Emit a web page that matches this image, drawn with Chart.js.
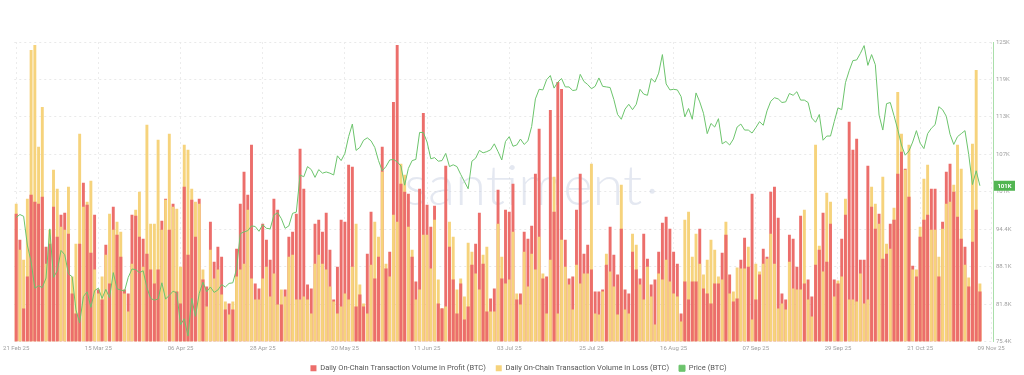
<!DOCTYPE html>
<html>
<head>
<meta charset="utf-8">
<script src="https://cdn.jsdelivr.net/npm/chart.js@4.4.1/dist/chart.umd.min.js"></script>
<style>
  html, body { margin: 0; padding: 0; background: #ffffff; }
  #wrap { width: 1024px; height: 375px; position: relative; }
</style>
</head>
<body>
<div id="wrap"><canvas id="c" width="1024" height="375"></canvas></div>
<script>
// ---------- DATA ----------
const startDate = '2025-02-21';
const endDate = '2025-11-09';
const tickLabels = ['21 Feb 25','15 Mar 25','06 Apr 25','28 Apr 25','20 May 25','11 Jun 25','03 Jul 25','25 Jul 25','16 Aug 25','07 Sep 25','29 Sep 25','21 Oct 25','09 Nov 25'];
const priceTickLabels = ['75.4K','81.8K','88.1K','94.4K','101K','107K','113K','119K','125K'];

// Daily On-Chain Transaction Volume in Profit (BTC, thousands)
const profitVolume = [
128,102,33,65,147,140,138,145,95,98,135,105,127,129,108,48,28,98,159,137,
89,127,52,42,97,58,135,107,85,52,48,127,126,105,103,88,72,58,72,121,
143,112,138,50,38,155,87,142,105,143,62,55,120,80,95,85,32,38,32,93,
138,170,147,197,58,53,118,102,82,143,132,37,52,105,110,128,193,153,57,53,
118,122,110,129,92,42,75,122,120,177,175,35,47,35,88,130,63,85,195,73,
90,240,297,158,150,148,85,60,153,229,137,115,136,38,33,176,95,62,28,58,
22,35,77,98,129,78,30,43,53,152,63,132,130,158,42,48,110,103,116,168,
213,63,65,232,130,260,253,102,63,65,132,168,88,97,72,50,50,52,77,115,
87,67,113,52,48,90,72,63,108,83,57,62,90,119,125,113,90,78,28,60,
42,60,60,113,53,48,38,58,58,89,107,67,40,43,82,104,75,148,42,67,
93,85,150,155,124,48,42,107,103,75,126,58,62,45,77,92,129,80,118,62,
58,103,127,220,192,203,82,82,176,135,113,128,83,88,118,122,168,190,173,145,
76,65,105,122,127,153,153,65,120,170,178,150,125,103,95,55,100,132,50
];
// Daily On-Chain Transaction Volume in Loss (BTC, thousands)
const lossVolume = [
138,92,82,143,292,297,195,235,78,112,172,153,115,112,155,65,98,208,135,140,
161,72,48,65,87,128,112,120,110,48,30,78,132,150,75,217,118,118,202,112,
142,208,135,133,75,197,192,153,140,138,72,35,92,63,72,47,40,27,40,65,
72,78,132,63,42,42,63,75,45,68,37,52,45,85,87,42,42,45,42,28,
78,87,78,72,55,40,28,35,48,42,75,118,57,38,28,77,120,105,170,78,
65,127,120,178,167,115,92,42,52,107,107,73,122,62,33,35,120,105,52,63,
45,99,90,68,52,87,95,30,30,118,85,58,62,110,48,37,90,55,88,72,
105,68,28,82,165,28,102,75,57,32,77,58,68,68,178,28,27,50,88,70,
55,27,157,32,28,108,97,57,42,75,45,17,68,62,82,60,48,45,20,122,
130,85,108,78,67,82,102,92,65,62,120,48,50,74,73,73,95,22,78,70,
78,83,108,78,33,38,32,80,53,52,52,132,42,25,197,96,70,149,140,45,
61,65,143,42,42,40,68,38,42,155,138,118,165,98,93,134,250,208,172,197,
72,72,115,163,177,112,112,85,113,138,140,157,197,173,77,64,198,272,58
];
// Price (BTC), thousands USD
const priceBTC = [
96.1,96.6,96.3,91.5,88.7,84.3,84.7,84.4,
86.0,94.2,86.1,87.2,90.6,89.9,86.7,86.2,80.7,78.5,82.9,83.7,81.1,83.9,84.3,82.6,84.1,82.7,86.9,84.2,84.0,83.8,86.1,87.5,87.4,86.9,87.2,84.4,82.6,82.3,82.5,
85.2,82.5,83.1,83.8,83.5,78.2,79.2,76.3,82.6,79.6,83.4,85.3,83.7,84.5,83.6,84.0,84.9,84.5,85.1,85.2,87.5,93.4,93.7,93.9,94.7,94.6,93.8,94.9,94.3,94.2,
96.5,96.9,95.9,94.3,94.7,96.8,97.0,103.2,102.9,104.6,104.1,102.8,104.1,103.5,103.7,103.5,103.2,106.4,105.6,106.8,109.6,111.7,107.3,107.8,109.0,109.4,108.9,107.8,105.6,103.9,104.6,
105.7,105.8,105.4,104.7,101.5,104.3,105.6,105.8,110.3,110.3,108.7,105.9,106.1,105.5,105.6,106.8,104.6,104.9,104.6,103.3,102.1,100.9,105.5,106.0,107.3,106.9,107.1,107.4,108.4,107.1,
105.7,108.8,109.6,108.0,108.2,109.2,108.3,108.9,111.3,115.9,117.5,117.4,119.1,119.8,117.7,118.7,119.3,117.9,117.9,117.3,117.4,120.0,118.8,118.3,117.6,118.0,119.4,118.0,117.9,117.8,115.8,
113.3,112.5,114.2,115.0,114.1,115.0,117.5,116.7,116.5,119.3,118.7,120.2,123.3,118.4,117.4,117.5,117.4,116.3,112.9,114.3,112.5,116.9,115.4,113.5,110.1,111.8,111.2,112.6,108.4,108.8,108.2,
109.2,111.2,111.7,110.7,110.7,110.2,111.1,112.1,111.5,113.9,115.5,116.1,115.9,115.3,115.4,116.8,116.5,117.1,115.7,115.7,115.3,112.7,112.0,113.3,109.0,109.7,109.7,112.1,114.4,114.1,
118.6,120.6,122.3,122.4,123.5,124.8,121.5,123.3,121.6,113.2,110.7,115.1,115.3,113.1,110.8,108.2,106.5,107.2,108.7,110.6,108.5,107.6,110.1,111.0,111.6,114.6,114.1,113.0,110.0,108.3,109.6,
110.1,110.6,106.6,101.6,103.9,101.4
];

// ---------- CATEGORIES ----------
const MONTHS = ['Jan','Feb','Mar','Apr','May','Jun','Jul','Aug','Sep','Oct','Nov','Dec'];
function fmt(d) {
  const dd = String(d.getUTCDate()).padStart(2, '0');
  return dd + ' ' + MONTHS[d.getUTCMonth()] + ' ' + String(d.getUTCFullYear()).slice(2);
}
const categories = [];
for (let d = new Date(startDate + 'T00:00:00Z'); d <= new Date(endDate + 'T00:00:00Z'); d.setUTCDate(d.getUTCDate() + 1)) {
  categories.push(fmt(d));
}

// ---------- STYLE ----------
const RED = '#ec6e6b';
const YELLOW = '#f6d37c';
const GREEN = '#6cc46c';

Chart.defaults.font.family = 'Roboto, "Liberation Sans", sans-serif';

const watermark = {
  id: 'watermark',
  beforeDatasetsDraw(chart) {
    const { ctx, chartArea } = chart;
    ctx.save();
    ctx.font = '300 56px Lato, "Open Sans", sans-serif';
    ctx.fillStyle = 'rgba(196, 203, 224, 0.45)';
    ctx.textAlign = 'center';
    ctx.textBaseline = 'alphabetic';
    const cx = chartArea.left + chartArea.width * 0.52;
    const by = chartArea.top + chartArea.height * 0.545;
    ctx.fillText('santiment', cx, by);
    const w = ctx.measureText('santiment').width;
    ctx.beginPath();
    ctx.arc(cx + w / 2 + 10, by - 14, 2.5, 0, Math.PI * 2);
    ctx.fill();
    ctx.restore();
  }
};

const priceTag = {
  id: 'priceTag',
  afterDraw(chart) {
    const { ctx } = chart;
    const s = chart.scales.yp;
    const last = priceBTC[priceBTC.length - 1];
    const y = s.getPixelForValue(last);
    ctx.save();
    ctx.fillStyle = '#52b552';
    const x0 = s.left + 1;
    ctx.fillRect(x0, y - 5, 21, 10);
    ctx.fillStyle = '#ffffff';
    ctx.font = 'bold 6px Roboto, sans-serif';
    ctx.textAlign = 'center';
    ctx.textBaseline = 'middle';
    ctx.fillText(Math.round(last) + 'K', x0 + 10.5, y + 0.5);
    ctx.restore();
  }
};

new Chart(document.getElementById('c'), {
  type: 'bar',
  data: {
    labels: categories,
    datasets: [
      {
        label: 'Daily On-Chain Transaction Volume in Profit (BTC)',
        data: profitVolume,
        backgroundColor: RED,
        borderWidth: 0,
        yAxisID: 'yv',
        order: 3,
        grouped: false,
        barPercentage: 0.78,
        categoryPercentage: 1.0
      },
      {
        label: 'Daily On-Chain Transaction Volume in Loss (BTC)',
        data: lossVolume,
        backgroundColor: YELLOW,
        borderWidth: 0,
        yAxisID: 'yv',
        order: 2,
        grouped: false,
        barPercentage: 0.78,
        categoryPercentage: 1.0
      },
      {
        type: 'line',
        label: 'Price (BTC)',
        data: priceBTC,
        borderColor: GREEN,
        backgroundColor: GREEN,
        borderWidth: 1,
        pointRadius: 0,
        tension: 0,
        yAxisID: 'yp',
        order: 0
      },
      {
        label: 'profit-front',
        data: profitVolume,
        backgroundColor: (ctx) => {
          const i = ctx.dataIndex;
          return (profitVolume[i] <= lossVolume[i]) ? RED : 'rgba(0,0,0,0)';
        },
        borderWidth: 0,
        yAxisID: 'yv',
        order: 1,
        grouped: false,
        barPercentage: 0.78,
        categoryPercentage: 1.0
      }
    ]
  },
  options: {
    responsive: false,
    animation: false,
    layout: { padding: { left: 13, top: 42, right: 0, bottom: -7 } },
    plugins: {
      tooltip: { enabled: false },
      legend: {
        position: 'bottom',
        labels: {
          boxWidth: 6,
          boxHeight: 6,
          padding: 10,
          color: '#555555',
          font: { size: 7.5 },
          filter: (item) => item.text !== 'profit-front',
          sort: (a, b) => a.datasetIndex - b.datasetIndex
        }
      }
    },
    scales: {
      x: {
        offset: true,
        grid: { offset: false, drawTicks: false, color: '#ececec', lineWidth: 1 },
        border: { display: false, dash: [2, 3] },
        ticks: {
          autoSkip: false,
          maxRotation: 0,
          padding: 3,
          color: '#a0a0a0',
          font: { size: 6 }
        },
        afterBuildTicks: (scale) => {
          scale.ticks = scale.ticks.filter(t => tickLabels.includes(categories[t.value]));
        },
        afterFit: (scale) => { scale.height = 13; }
      },
      yv: {
        display: false,
        position: 'left',
        min: 0,
        max: 300
      },
      yp: {
        position: 'right',
        min: 75.4,
        max: 125.4,
        ticks: {
          stepSize: 6.25,
          padding: 3,
          color: '#a0a0a0',
          font: { size: 6 },
          callback: (v, i) => priceTickLabels[i]
        },
        grid: { drawTicks: false, color: '#e9e9e9', lineWidth: 1 },
        border: { display: true, color: '#a9dea9', width: 1, dash: [2, 3] },
        afterFit: (scale) => { scale.width = 31; }
      }
    }
  },
  plugins: [watermark, priceTag]
});
</script>
</body>
</html>
